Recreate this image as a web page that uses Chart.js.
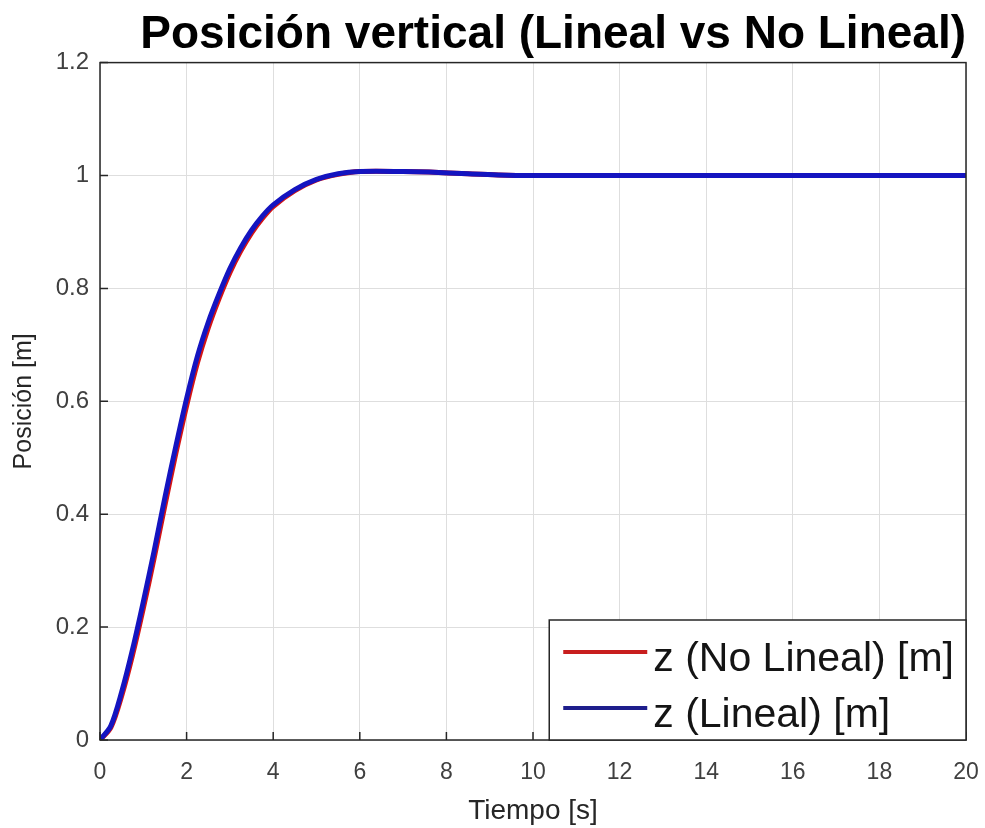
<!DOCTYPE html>
<html>
<head>
<meta charset="utf-8">
<script src="https://cdn.jsdelivr.net/npm/chart.js@4.4.1/dist/chart.umd.min.js"></script>
<style>
    html, body { margin: 0; padding: 0; background: #fff; }
    #wrap { width: 985px; height: 828px; }
</style>
</head>
<body>
<div id="wrap"><canvas id="chart" width="985" height="828"></canvas></div>
<script>
'use strict';

/* global Chart */

// values
const tiempo = [0, 0.25, 0.5, 0.75, 1, 1.25, 1.5, 1.75, 2, 2.25, 2.5, 2.75, 3, 3.25, 3.5, 3.75,
    4, 4.5, 5, 5.5, 6, 7, 7.6, 8.5, 9.2, 10, 12, 14, 16, 18, 20];
const zNoLineal = [0, 0.022, 0.078, 0.15, 0.233, 0.322, 0.416, 0.507, 0.592, 0.668, 0.73, 0.782, 0.828, 0.866, 0.898, 0.924,
    0.945, 0.973, 0.992, 1.002, 1.007, 1.007, 1.006, 1.003, 1.001, 1.0, 1.0, 1.0, 1.0, 1.0, 1.0];
const zLineal = [0, 0.025, 0.085, 0.16, 0.245, 0.335, 0.43, 0.52, 0.605, 0.68, 0.74, 0.79, 0.835, 0.872, 0.903, 0.928,
    0.948, 0.975, 0.993, 1.003, 1.007, 1.007, 1.006, 1.003, 1.001, 1.0, 1.0, 1.0, 1.0, 1.0, 1.0];
const seriesLabels = ['z (No Lineal) [m]', 'z (Lineal) [m]'];
const xTicks = [0, 2, 4, 6, 8, 10, 12, 14, 16, 18, 20];
const yTicks = [0, 0.2, 0.4, 0.6, 0.8, 1, 1.2];

const FONT = '"Liberation Sans", Arial, Helvetica, sans-serif';
const AXIS_COLOR = '#262626';

let toPoints = (xs, ys) => xs.map((x, i) => ({ x: x, y: ys[i] }));

// box, inner tick marks and the legend drawn the matlab way
const matlabFrame = {
    id: 'matlabFrame',
    afterDatasetsDraw(chart) {
        const ctx = chart.ctx;
        const a = chart.chartArea;
        const xs = chart.scales.x, ys = chart.scales.y;
        ctx.save();
        ctx.strokeStyle = AXIS_COLOR;
        ctx.lineWidth = 1.5;
        ctx.strokeRect(a.left, a.top, a.right - a.left, a.bottom - a.top);
        ctx.beginPath();
        xTicks.forEach((v) => {
            const px = xs.getPixelForValue(v);
            ctx.moveTo(px, a.bottom);
            ctx.lineTo(px, a.bottom - 8);
        });
        yTicks.forEach((v) => {
            const py = ys.getPixelForValue(v);
            ctx.moveTo(a.left, py);
            ctx.lineTo(a.left + 8, py);
        });
        ctx.stroke();

        // legend box in the lower right corner
        ctx.font = '41px ' + FONT;
        const textW = Math.max(...seriesLabels.map((s) => ctx.measureText(s).width));
        const lineW = 84, rowH = 56;
        const boxW = 14 + lineW + 6 + textW + 12;
        const boxH = rowH * seriesLabels.length + 8;
        const bx = a.right - boxW, by = a.bottom - boxH;
        ctx.fillStyle = '#fff';
        ctx.fillRect(bx, by, boxW, boxH);
        ctx.strokeStyle = AXIS_COLOR;
        ctx.lineWidth = 1.5;
        ctx.strokeRect(bx, by, boxW, boxH);
        const legendColors = ['#c81e1e', '#1e1e8c'];
        seriesLabels.forEach((s, i) => {
            const cy = by + 32 + i * rowH;
            ctx.strokeStyle = legendColors[i];
            ctx.lineWidth = 4;
            ctx.beginPath();
            ctx.moveTo(bx + 14, cy);
            ctx.lineTo(bx + 14 + lineW, cy);
            ctx.stroke();
            ctx.fillStyle = '#141414';
            ctx.textBaseline = 'alphabetic';
            ctx.textAlign = 'left';
            ctx.fillText(s, bx + 14 + lineW + 6, cy + 19);
        });
        ctx.restore();
    }
};

const chart = new Chart(document.getElementById('chart'), {
    type: 'line',
    data: {
        datasets: [{
            label: seriesLabels[0],
            data: toPoints(tiempo, zNoLineal),
            borderColor: '#d41414',
            borderWidth: 5,
            pointRadius: 0,
            tension: 0.3,
            fill: false,
            order: 1
        }, {
            label: seriesLabels[1],
            data: toPoints(tiempo, zLineal),
            borderColor: '#1414c0',
            borderWidth: 5,
            pointRadius: 0,
            tension: 0.3,
            fill: false,
            order: 0
        }]
    },
    options: {
        responsive: false,
        animation: false,
        layout: { padding: { left: 0, right: 19, top: 0, bottom: 0 } },
        plugins: {
            legend: { display: false },
            tooltip: { enabled: false },
            title: {
                display: true,
                align: 'end',
                text: 'Posición vertical (Lineal vs No Lineal)',
                color: '#000',
                font: { family: FONT, size: 46, weight: 'bold', lineHeight: 1.1 },
                padding: { top: 10, bottom: 2 }
            }
        },
        scales: {
            x: {
                type: 'linear',
                min: 0,
                max: 20,
                afterBuildTicks: (s) => { s.ticks = xTicks.map((v) => ({ value: v })); },
                afterFit: (s) => {
                    s.height = 88;
                    s.paddingLeft = 0;
                    s.paddingRight = 0;
                },
                border: { display: false },
                grid: { color: '#dedede', lineWidth: 1, drawTicks: false },
                ticks: {
                    color: '#404040',
                    font: { family: FONT, size: 23 },
                    padding: 19,
                    maxRotation: 0
                },
                title: {
                    display: true,
                    text: 'Tiempo [s]',
                    color: '#262626',
                    font: { family: FONT, size: 28 },
                    padding: { top: 7, bottom: 0 }
                }
            },
            y: {
                type: 'linear',
                min: 0,
                max: 1.2,
                afterBuildTicks: (s) => { s.ticks = yTicks.map((v) => ({ value: v })); },
                afterFit: (s) => { s.width = 100; },
                border: { display: false },
                grid: { color: '#dedede', lineWidth: 1, drawTicks: false },
                ticks: {
                    color: '#404040',
                    font: { family: FONT, size: 24 },
                    padding: 11,
                    callback: (v) => String(Math.round(v * 10) / 10)
                },
                title: {
                    display: true,
                    text: 'Posición [m]',
                    color: '#262626',
                    font: { family: FONT, size: 25 },
                    padding: { top: 9, bottom: 0 }
                }
            }
        }
    },
    plugins: [matlabFrame]
});
</script>
</body>
</html>
